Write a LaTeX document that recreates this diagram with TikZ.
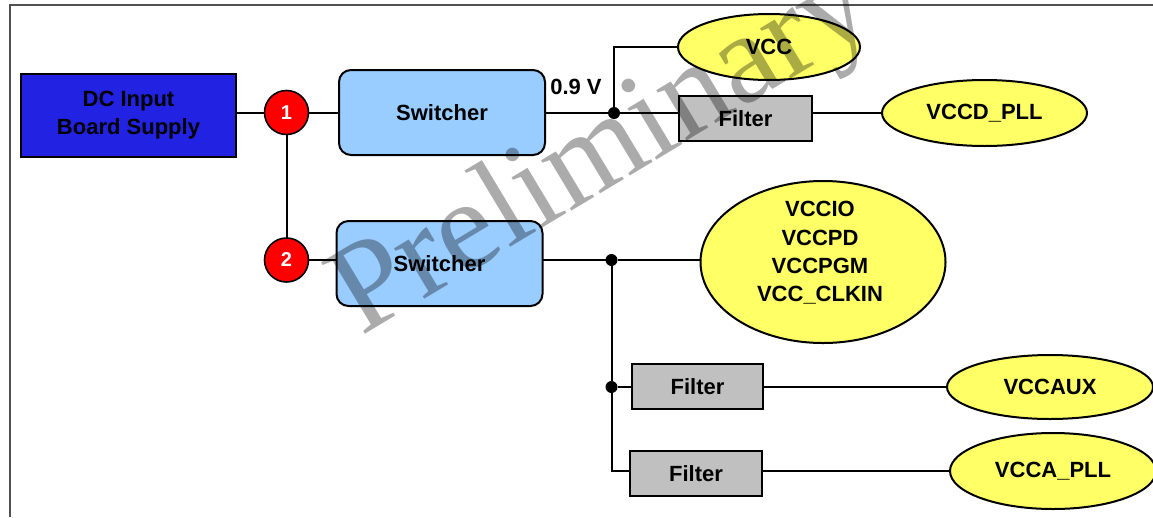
\documentclass[tikz,border=0pt]{standalone}
\usepackage{fontspec}
\setmainfont{Liberation Sans}
\newfontfamily\wmfont{Liberation Serif}
\usetikzlibrary{shapes.geometric}

\definecolor{dcblue}{RGB}{34,34,226}
\definecolor{swblue}{RGB}{153,204,255}
\definecolor{filtgray}{RGB}{192,192,192}
\definecolor{railyellow}{RGB}{255,255,102}
\definecolor{framegray}{RGB}{80,80,80}

\begin{document}
\begin{tikzpicture}[x=1pt,y=-1pt,
  every node/.style={font=\fontsize{22}{28}\selectfont\bfseries, inner sep=0pt, outer sep=0pt},
  wire/.style={line width=2pt},
  supply/.style={draw, line width=2pt, fill=dcblue, align=center, minimum width=215pt, minimum height=83pt},
  tap/.style={circle, draw, line width=1.6pt, fill=red, text=white, minimum size=44pt,
              font=\fontsize{20}{24}\selectfont\bfseries},
  switcher/.style={draw, line width=2pt, fill=swblue, rounded corners=12pt,
                   minimum width=206pt, minimum height=85pt},
  filterbox/.style={draw, line width=2pt, fill=filtgray, minimum width=132pt, minimum height=45pt},
  rail/.style={ellipse, draw, line width=2pt, fill=railyellow},
  junction/.style={circle, fill=black, minimum size=12pt},
]
\useasboundingbox (0,0) rectangle (1153,517);

% outer frame (only the top and left edges fall inside the page)
\draw[framegray, line width=1.5pt] (10,517) -- (10,5) -- (1153,5);

% input and tap points
\node[supply] (dc) at (128.5,115.5) {DC Input\\Board Supply};
\node[tap] (t1) at (286.5,112.5) {1};
\node[tap] (t2) at (286.5,260) {2};

% switchers
\node[switcher] (sw1) at (442,112.5) {Switcher};
\node[switcher] (sw2) at (439.5,263.5) {Switcher};

% junctions
\node[junction] (j1) at (614,113) {};
\node[junction] (j2) at (611.5,260) {};
\node[junction] (j3) at (611.5,387) {};
\coordinate (vccbend) at (614,47);
\coordinate (bottombend) at (611.5,471);

% filters
\node[filterbox, minimum width=133pt] (f1) at (745.5,118.5) {Filter};
\node[filterbox, minimum width=131pt] (f2) at (697.5,386.5) {Filter};
\node[filterbox] (f3) at (696,473.5) {Filter};

% supply rails
\node[rail, minimum width=182pt, minimum height=66pt] (vcc) at (769,47) {VCC};
\node[rail, minimum width=205pt, minimum height=66pt] (vccd) at (984.5,113) {VCCD\_PLL};
\node[rail, minimum width=245pt, minimum height=162pt] (io) at (823,262) {};
\node[align=center, font=\fontsize{22}{28.3}\selectfont\bfseries] (iotext) at (820,253)
  {VCCIO\\VCCPD\\VCCPGM\\VCC\_CLKIN};
\node[rail, minimum width=206pt, minimum height=64pt] (aux) at (1050,387) {VCCAUX};
\node[rail, minimum width=206pt, minimum height=76pt] (apll) at (1053,471) {VCCA\_PLL};

% wiring
\draw[wire] (dc.east |- t1) -- (t1);
\draw[wire] (t1) -- (sw1.west |- t1);
\draw[wire] (t1) -- (t2);
\draw[wire] (t2) -- (sw2.west |- t2);
\draw[wire] (sw1.east |- j1) -- (j1) -- (f1.west |- j1);
\draw[wire] (j1) -- (vccbend) -- (vcc.west);
\draw[wire] (f1.east |- vccd) -- (vccd.west);
\draw[wire] (sw2.east |- j2) -- (j2) -- (io.west |- j2);
\draw[wire] (j2) -- (j3) -- (bottombend) -- (f3.west |- bottombend);
\draw[wire] (j3) -- (f2.west |- j3);
\draw[wire] (f2.east |- j3) -- (aux.west);
\draw[wire] (f3.east |- bottombend) -- (apll.west);

% label on the 0.9 V output
\node[font=\fontsize{22}{26}\selectfont\bfseries] (volt) at (576,87) {0.9 V};

% watermark
\node[font=\wmfont\fontsize{128}{128}\selectfont, rotate=31, text=black, text opacity=0.33]
  (wm) at (605,155) {Preliminary};
\end{tikzpicture}
\end{document}
